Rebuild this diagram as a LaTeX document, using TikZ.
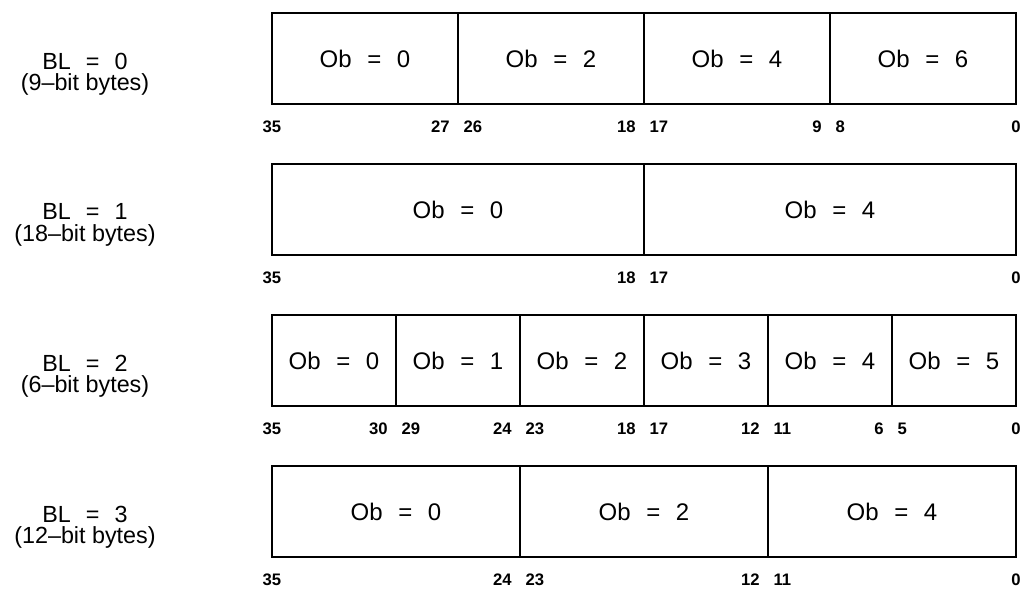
\documentclass[tikz,border=0pt]{standalone}
\usepackage{fontspec}
\setmainfont{Liberation Sans}
\usetikzlibrary{positioning}
\newcommand{\eqsp}{\hspace{0.65em}=\hspace{0.65em}}
\tikzset{
    field/.style={rectangle, draw=black, line width=0.9pt, minimum width=#1*15.5pt, minimum height=68.25pt, inner sep=0pt, outer sep=0pt, font=\fontsize{18}{20}\selectfont},
    frame/.style={draw=black, line width=1.8pt},
    rowlbl/.style={align=center, inner sep=0pt, font=\fontsize{17.5}{16}\selectfont},
    hibit/.style={anchor=west, inner sep=0pt, xshift=4pt, yshift=-17pt, font=\fontsize{12.5}{14}\selectfont\bfseries},
    lobit/.style={anchor=east, inner sep=0pt, xshift=-6pt, yshift=-17pt, font=\fontsize{12.5}{14}\selectfont\bfseries},
    edgebit/.style={anchor=center, inner sep=0pt, yshift=-17pt, font=\fontsize{12.5}{14}\selectfont\bfseries}
}

\begin{document}
\begin{tikzpicture}[x=0.75pt, y=-0.75pt]
    \useasboundingbox (0,0) rectangle (1022,589);

    % BL = 0, 9-bit bytes
    \node[rowlbl] (bl0) at (85,74) {BL\eqsp 0\\(9--bit bytes)};
    \node[field=9, anchor=north west] (a0) at (272,13) {Ob\eqsp 0};
    \node[field=9, right=0pt of a0] (a2) {Ob\eqsp 2};
    \node[field=9, right=0pt of a2] (a4) {Ob\eqsp 4};
    \node[field=9, right=0pt of a4] (a6) {Ob\eqsp 6};
    \draw[frame] (a0.north west) rectangle (a6.south east);
    \node[edgebit] (a0h) at (a0.south west) {35};
    \node[lobit] (a0l) at (a0.south east) {27};
    \node[hibit] (a2h) at (a2.south west) {26};
    \node[lobit] (a2l) at (a2.south east) {18};
    \node[hibit] (a4h) at (a4.south west) {17};
    \node[lobit] (a4l) at (a4.south east) {9};
    \node[hibit] (a6h) at (a6.south west) {8};
    \node[edgebit] (a6l) at (a6.south east) {0};

    % BL = 1, 18-bit bytes
    \node[rowlbl] (bl1) at (85,225) {BL\eqsp 1\\(18--bit bytes)};
    \node[field=18, anchor=north west] (b0) at (272,164) {Ob\eqsp 0};
    \node[field=18, right=0pt of b0] (b4) {Ob\eqsp 4};
    \draw[frame] (b0.north west) rectangle (b4.south east);
    \node[edgebit] (b0h) at (b0.south west) {35};
    \node[lobit] (b0l) at (b0.south east) {18};
    \node[hibit] (b4h) at (b4.south west) {17};
    \node[edgebit] (b4l) at (b4.south east) {0};

    % BL = 2, 6-bit bytes
    \node[rowlbl] (bl2) at (85,376) {BL\eqsp 2\\(6--bit bytes)};
    \node[field=6, anchor=north west] (c0) at (272,315) {Ob\eqsp 0};
    \node[field=6, right=0pt of c0] (c1) {Ob\eqsp 1};
    \node[field=6, right=0pt of c1] (c2) {Ob\eqsp 2};
    \node[field=6, right=0pt of c2] (c3) {Ob\eqsp 3};
    \node[field=6, right=0pt of c3] (c4) {Ob\eqsp 4};
    \node[field=6, right=0pt of c4] (c5) {Ob\eqsp 5};
    \draw[frame] (c0.north west) rectangle (c5.south east);
    \node[edgebit] (c0h) at (c0.south west) {35};
    \node[lobit] (c0l) at (c0.south east) {30};
    \node[hibit] (c1h) at (c1.south west) {29};
    \node[lobit] (c1l) at (c1.south east) {24};
    \node[hibit] (c2h) at (c2.south west) {23};
    \node[lobit] (c2l) at (c2.south east) {18};
    \node[hibit] (c3h) at (c3.south west) {17};
    \node[lobit] (c3l) at (c3.south east) {12};
    \node[hibit] (c4h) at (c4.south west) {11};
    \node[lobit] (c4l) at (c4.south east) {6};
    \node[hibit] (c5h) at (c5.south west) {5};
    \node[edgebit] (c5l) at (c5.south east) {0};

    % BL = 3, 12-bit bytes
    \node[rowlbl] (bl3) at (85,527) {BL\eqsp 3\\(12--bit bytes)};
    \node[field=12, anchor=north west] (d0) at (272,466) {Ob\eqsp 0};
    \node[field=12, right=0pt of d0] (d2) {Ob\eqsp 2};
    \node[field=12, right=0pt of d2] (d4) {Ob\eqsp 4};
    \draw[frame] (d0.north west) rectangle (d4.south east);
    \node[edgebit] (d0h) at (d0.south west) {35};
    \node[lobit] (d0l) at (d0.south east) {24};
    \node[hibit] (d2h) at (d2.south west) {23};
    \node[lobit] (d2l) at (d2.south east) {12};
    \node[hibit] (d4h) at (d4.south west) {11};
    \node[edgebit] (d4l) at (d4.south east) {0};
\end{tikzpicture}
\end{document}
